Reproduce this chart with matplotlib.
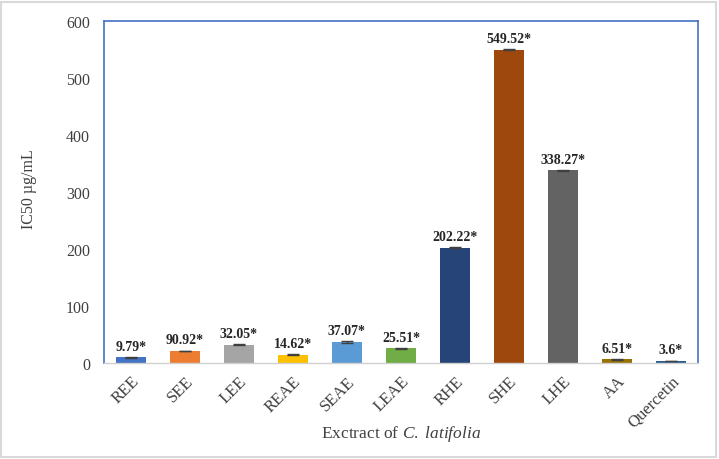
import matplotlib
matplotlib.use("Agg")
import matplotlib.pyplot as plt
from matplotlib.patches import Rectangle

categories = ["REE", "SEE", "LEE", "REAE", "SEAE", "LEAE", "RHE", "SHE", "LHE", "AA", "Quercetin"]
values = [9.79, 21.0, 32.05, 14.62, 37.07, 25.51, 202.22, 549.52, 338.27, 6.51, 3.6]
errors = [1.2, 0.0, 1.0, 1.2, 1.2, 0.8, 1.0, 1.0, 1.0, 0.8, 0.6]
labels = ["9.79*", "90.92*", "32.05*", "14.62*", "37.07*", "25.51*", "202.22*", "549.52*", "338.27*", "6.51*", "3.6*"]
colors = ["#4472C4", "#ED7D31", "#A5A5A5", "#FFC000", "#5B9BD5", "#70AD47",
          "#264478", "#9E480E", "#636363", "#997300", "#255E91"]

plt.rcParams['font.family'] = ['Liberation Serif', 'DejaVu Serif']
plt.rcParams['mathtext.fontset'] = 'custom'
plt.rcParams['mathtext.rm'] = 'Liberation Serif'
plt.rcParams['mathtext.it'] = 'Liberation Serif:italic'

fig = plt.figure(figsize=(7.19, 4.60), dpi=100)
ax = fig.add_axes([0.1446, 0.2087, 0.8262, 0.7433])

x = range(len(categories))
ax.bar(x, values, width=0.57, color=colors, yerr=errors,
       error_kw=dict(ecolor="#404040", elinewidth=1, capsize=4, capthick=1))
for xi, v, lab in zip(x, values, labels):
    ax.text(xi, v + 8, lab, ha="center", va="bottom", fontsize=10,
            fontweight="bold", color="#262626")

ax.set_xlim(-0.5, len(categories) - 0.5)
ax.set_ylim(0, 600)
ax.set_yticks([0, 100, 200, 300, 400, 500, 600])
ax.set_xticks(list(x))
ax.set_xticklabels(categories, rotation=45, ha="right", rotation_mode="anchor",
                   fontsize=12, color="#404040")
ax.tick_params(axis="y", labelsize=11.5, labelcolor="#404040", length=0, pad=10)
ax.tick_params(axis="x", length=0, pad=7)

for s in ["top", "left", "right"]:
    ax.spines[s].set_color("#4472C4")
    ax.spines[s].set_linewidth(1.2)
ax.spines["bottom"].set_color("#D0D0D0")
ax.spines["bottom"].set_linewidth(1.0)

ax.set_ylabel("IC50 µg/mL", fontsize=11.5, color="#404040")
ax.yaxis.set_label_coords(-0.112, 0.51)
ax.set_xlabel("Exctract of $\\it{C.\\ latifolia}$", fontsize=12.5, color="#404040")
ax.xaxis.set_label_coords(0.5, -0.175)

fig.patches.append(Rectangle((0.002, 0.004), 0.994, 0.99, transform=fig.transFigure,
                             fill=False, edgecolor="#D9D9D9", linewidth=1.5))

fig.savefig("out.png", dpi=100)
